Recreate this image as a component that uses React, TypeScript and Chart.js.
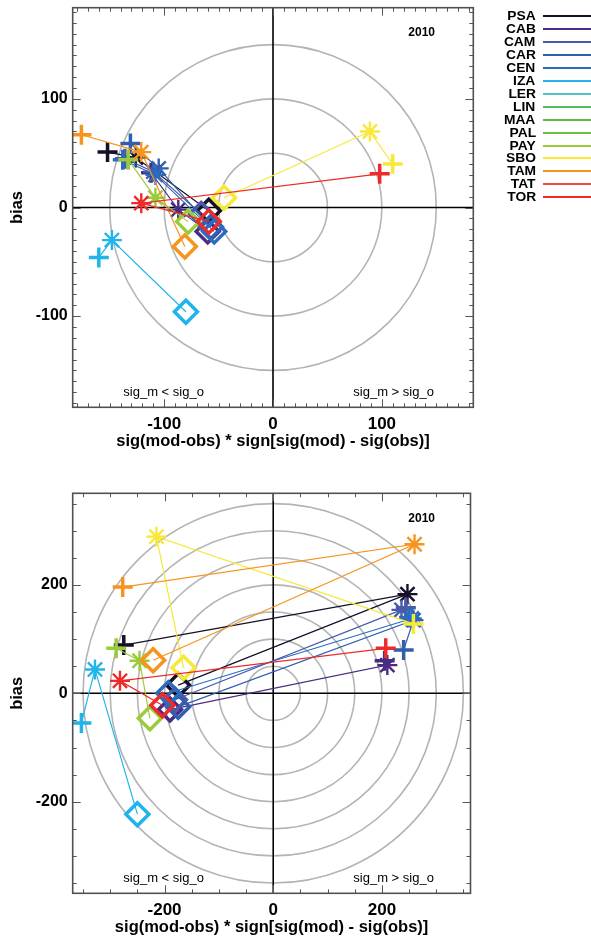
import React, { useEffect, useRef } from 'react';
import { Chart, registerables } from 'chart.js';

Chart.register(...registerables);

const FONT = "'Liberation Sans', Arial, Helvetica, sans-serif";

const STATIONS = ['PSA', 'CAB', 'CAM', 'CAR', 'CEN', 'IZA', 'LER', 'LIN', 'MAA', 'PAL', 'PAY', 'SBO', 'TAM', 'TAT', 'TOR'];
const COLORS = ['#161028', '#4b2c84', '#4a5aa8', '#2f5fae', '#2b6cc0', '#1fb5ea', '#50c4c4', '#5cb85c', '#62b94a', '#6cc040', '#9acc3a', '#f7e83a', '#f7941e', '#f04a40', '#ee2a2a'];
const MARKERS = ['cross', 'star', 'rectRot'];
const MARKER_WIDTHS = [3.5, 2.4, 3.5];
const MARKER_SIZES = [10, 10, 11.5];
const YEAR = '2010';
const X_TITLE = 'sig(mod-obs) * sign[sig(mod) - sig(obs)]';
const Y_TITLE = 'bias';
const NOTE_LEFT = 'sig_m < sig_o';
const NOTE_RIGHT = 'sig_m > sig_o';

// Top panel: per station [+ , * , diamond]
const TOP_X = [
  [-152, -126, -59],
  [-112, -87, -60],
  [-136, -110, -66],
  [-131, -105, -57],
  [-138, -108, -54],
  [-160, -148, -80],
  [],
  [],
  [],
  [],
  [-133, -108, -78],
  [110, 89, -45],
  [-176, -121, -81],
  [],
  [98, -121, -59],
];
const TOP_Y = [
  [51, 46, -3],
  [32, -2, -22],
  [45, 33, -6],
  [59, 36, -18],
  [44, 30, -22],
  [-46, -30, -96],
  [],
  [],
  [],
  [],
  [44, 9, -13],
  [40, 70, 9],
  [67, 51, -36],
  [],
  [31, 4, -13],
];
const TOP_TICKS = [-100, 0, 100];
const TOP_RINGS = [50, 100, 150];

// Bottom panel: per station [+ , * , diamond]
const BOT_X = [
  [-275, 247, -175],
  [205, 210, -190],
  [244, 236, -181],
  [240, 258, -175],
  [250, 255, -193],
  [-353, -328, -250],
  [],
  [],
  [],
  [],
  [-289, -246, -227],
  [258, -215, -165],
  [-277, 260, -221],
  [],
  [207, -282, -204],
];
const BOT_Y = [
  [89, 183, 15],
  [60, 52, -30],
  [158, 154, -12],
  [80, 135, -25],
  [140, 138, 0],
  [-55, 44, -223],
  [],
  [],
  [],
  [],
  [83, 60, -46],
  [128, 289, 47],
  [196, 275, 61],
  [],
  [83, 23, -22],
];
const BOT_TICKS = [-200, 0, 200];
const BOT_RINGS = [50, 100, 150, 200, 250, 300, 350];

const framePlugin = {
  id: 'polarFrame',
  beforeDatasetsDraw(chart: any, _args: any, opts: any) {
    const { ctx, chartArea: a, scales } = chart;
    const sx = scales.x, sy = scales.y;
    const cx = sx.getPixelForValue(0);
    const cy = sy.getPixelForValue(0);
    ctx.save();
    ctx.beginPath();
    ctx.rect(a.left, a.top, a.right - a.left, a.bottom - a.top);
    ctx.clip();
    ctx.strokeStyle = '#b4b4b4';
    ctx.lineWidth = 1.6;
    for (const r of opts.rings) {
      const rx = sx.getPixelForValue(r) - cx;
      const ry = cy - sy.getPixelForValue(r);
      ctx.beginPath();
      ctx.ellipse(cx, cy, rx, ry, 0, 0, Math.PI * 2);
      ctx.stroke();
    }
    ctx.strokeStyle = '#000';
    ctx.lineWidth = 1.6;
    ctx.beginPath();
    ctx.moveTo(a.left, cy);
    ctx.lineTo(a.right, cy);
    ctx.moveTo(cx, a.top);
    ctx.lineTo(cx, a.bottom);
    ctx.stroke();
    ctx.restore();
  },
  afterDraw(chart: any, _args: any, opts: any) {
    const { ctx, chartArea: a, scales } = chart;
    const sx = scales.x, sy = scales.y;
    ctx.save();
    ctx.strokeStyle = '#555';
    ctx.lineWidth = 1;
    const minor = opts.minor, major = opts.major;
    for (let v = Math.ceil(sx.min / minor) * minor; v <= sx.max; v += minor) {
      const len = Math.abs(v % major) < 1e-6 ? 8 : 4;
      const px = Math.round(sx.getPixelForValue(v)) + 0.5;
      ctx.beginPath();
      ctx.moveTo(px, a.bottom);
      ctx.lineTo(px, a.bottom - len);
      ctx.moveTo(px, a.top);
      ctx.lineTo(px, a.top + len);
      ctx.stroke();
    }
    for (let v = Math.ceil(sy.min / minor) * minor; v <= sy.max; v += minor) {
      const len = Math.abs(v % major) < 1e-6 ? 8 : 4;
      const py = Math.round(sy.getPixelForValue(v)) + 0.5;
      ctx.beginPath();
      ctx.moveTo(a.left, py);
      ctx.lineTo(a.left + len, py);
      ctx.moveTo(a.right, py);
      ctx.lineTo(a.right - len, py);
      ctx.stroke();
    }
    ctx.strokeStyle = '#505050';
    ctx.lineWidth = 1.6;
    ctx.strokeRect(a.left, a.top, a.right - a.left, a.bottom - a.top);

    ctx.fillStyle = '#000';
    ctx.textBaseline = 'middle';
    ctx.font = `bold 12px ${FONT}`;
    ctx.textAlign = 'center';
    ctx.fillText(YEAR, a.left + 349, a.top + 25);
    ctx.font = `13px ${FONT}`;
    ctx.textAlign = 'left';
    ctx.fillText(NOTE_LEFT, a.left + 50.6, a.bottom - 15);
    ctx.fillText(NOTE_RIGHT, a.left + 280.6, a.bottom - 15);
    ctx.restore();
  },
};

type Geom = {
  height: number;
  xMin: number; xMax: number; yMin: number; yMax: number;
  padTop: number; padRight: number; yAxisW: number; xAxisH: number;
  xTickPad: number; xTitlePad: number;
  ticks: number[]; rings: number[]; minor: number; major: number;
  xs: number[][]; ys: number[][];
};

function buildConfig(g: Geom): any {
  const datasets = STATIONS.map((name, i) => ({
    label: name,
    data: g.xs[i].map((x, j) => ({ x, y: g.ys[i][j] })),
    showLine: true,
    borderColor: COLORS[i],
    borderWidth: 1.2,
    pointStyle: MARKERS,
    pointRadius: MARKER_SIZES,
    pointBorderWidth: MARKER_WIDTHS,
    pointBorderColor: COLORS[i],
    pointBackgroundColor: 'rgba(0,0,0,0)',
    order: -i,
  }));
  const tickFont = { family: FONT, size: 17, weight: 'bold' as const };
  return {
    type: 'scatter',
    data: { datasets },
    options: {
      responsive: false,
      animation: false,
      events: [],
      layout: { autoPadding: false, padding: { left: 0, right: g.padRight, top: g.padTop, bottom: 0 } },
      plugins: {
        legend: { display: false },
        tooltip: { enabled: false },
        polarFrame: { rings: g.rings, minor: g.minor, major: g.major },
      },
      scales: {
        x: {
          type: 'linear',
          min: g.xMin,
          max: g.xMax,
          grid: { display: false, drawTicks: false },
          border: { display: false },
          afterBuildTicks: (s: any) => { s.ticks = g.ticks.map((v) => ({ value: v })); },
          afterFit: (s: any) => { s.height = g.xAxisH; s.paddingLeft = 0; s.paddingRight = 0; },
          ticks: { font: tickFont, color: '#000', padding: g.xTickPad, maxRotation: 0, autoSkip: false },
          title: { display: true, text: X_TITLE, color: '#000', font: { family: FONT, size: 16.5, weight: 'bold' }, padding: { top: 0, bottom: g.xTitlePad } },
        },
        y: {
          type: 'linear',
          min: g.yMin,
          max: g.yMax,
          grid: { display: false, drawTicks: false },
          border: { display: false },
          afterBuildTicks: (s: any) => { s.ticks = g.ticks.map((v) => ({ value: v })); },
          afterFit: (s: any) => { s.width = g.yAxisW; s.paddingTop = 0; s.paddingBottom = 0; },
          ticks: { font: { family: FONT, size: 16, weight: 'bold' }, color: '#000', padding: 5, autoSkip: false },
          title: { display: true, text: Y_TITLE, color: '#000', font: { family: FONT, size: 16.5, weight: 'bold' }, padding: { top: 8, bottom: 0 } },
        },
      },
    },
    plugins: [framePlugin],
  };
}

const TOP_GEOM: Geom = {
  height: 470,
  xMin: -184, xMax: 184, yMin: -184, yMax: 184,
  padTop: 7.7, padRight: 117.7, yAxisW: 72.7, xAxisH: 62.7,
  xTickPad: 7, xTitlePad: 19,
  ticks: TOP_TICKS, rings: TOP_RINGS, minor: 10, major: 100,
  xs: TOP_X, ys: TOP_Y,
};

const BOT_GEOM: Geom = {
  height: 469,
  xMin: -369, xMax: 363, yMin: -369, yMax: 369,
  padTop: 23.3, padRight: 120.5, yAxisW: 72.7, xAxisH: 45.7,
  xTickPad: 7, xTitlePad: 2,
  ticks: BOT_TICKS, rings: BOT_RINGS, minor: 50, major: 200,
  xs: BOT_X, ys: BOT_Y,
};

function Panel({ geom, top }: { geom: Geom; top: number }) {
  const ref = useRef<HTMLCanvasElement | null>(null);
  useEffect(() => {
    if (!ref.current) return;
    const chart = new Chart(ref.current, buildConfig(geom));
    return () => chart.destroy();
  }, [geom]);
  return (
    <canvas
      ref={ref}
      width={591}
      height={geom.height}
      style={{ position: 'absolute', left: 0, top, width: 591, height: geom.height }}
    />
  );
}

function Legend() {
  return (
    <div style={{ position: 'absolute', left: 0, top: 0, width: 591, height: 210, pointerEvents: 'none' }}>
      {STATIONS.map((name, i) => {
        const cy = 16 + 12.95 * i;
        return (
          <React.Fragment key={name}>
            <div
              style={{
                position: 'absolute',
                right: 591 - 535.7,
                top: cy - 7,
                height: 14,
                lineHeight: '14px',
                fontFamily: FONT,
                fontWeight: 'bold',
                fontSize: 12,
                color: '#000',
                textAlign: 'right',
                whiteSpace: 'nowrap',
                transform: 'scaleX(1.15)',
                transformOrigin: 'right center',
              }}
            >
              {name}
            </div>
            <div
              style={{
                position: 'absolute',
                left: 543,
                width: 48,
                top: Math.round(cy) - 1,
                height: 2,
                background: COLORS[i],
              }}
            />
          </React.Fragment>
        );
      })}
    </div>
  );
}

export default function App() {
  return (
    <div style={{ position: 'absolute', left: 0, top: 0, width: 591, height: 939, background: '#fff', overflow: 'hidden' }}>
      <Panel geom={TOP_GEOM} top={0} />
      <Panel geom={BOT_GEOM} top={470} />
      <Legend />
    </div>
  );
}
